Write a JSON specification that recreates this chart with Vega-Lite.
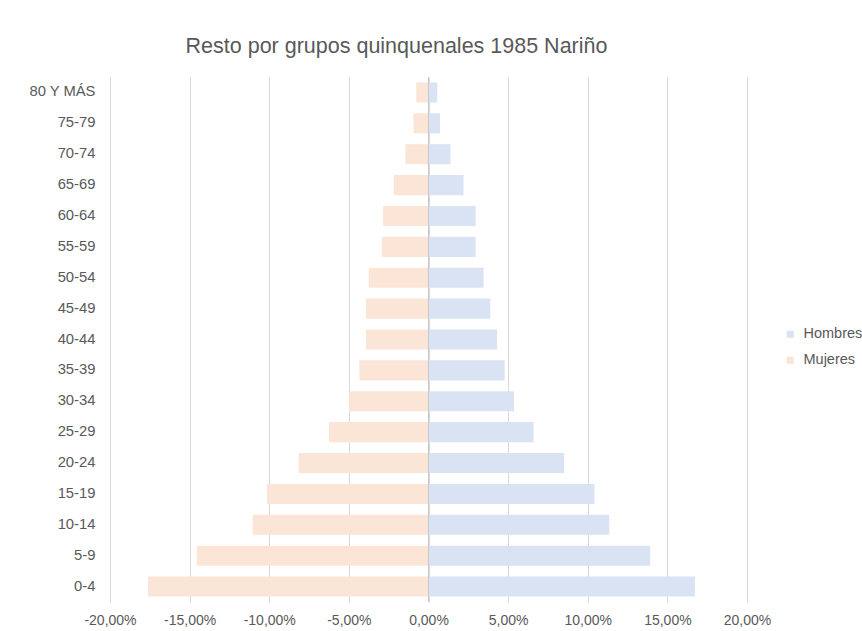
{
  "$schema": "https://vega.github.io/schema/vega-lite/v6.json",
  "autosize": {"type": "none"},
  "width": 637,
  "height": 525,
  "padding": {"left": 110, "top": 77, "right": 115, "bottom": 29},
  "background": "white",
  "config": {
    "view": {"stroke": null},
    "font": "Liberation Sans"
  },
  "title": {
    "text": "Resto por grupos quinquenales 1985 Nariño",
    "fontSize": 21.5,
    "font": "Liberation Sans",
    "fontWeight": "normal",
    "color": "#595959",
    "anchor": "middle",
    "dx": -32,
    "offset": 19
  },
  "data": {
    "values": [
      {"grupo": "80 Y MÁS", "sexo": "Hombres", "valor": 0.55},
      {"grupo": "75-79", "sexo": "Hombres", "valor": 0.72},
      {"grupo": "70-74", "sexo": "Hombres", "valor": 1.38},
      {"grupo": "65-69", "sexo": "Hombres", "valor": 2.2},
      {"grupo": "60-64", "sexo": "Hombres", "valor": 2.96},
      {"grupo": "55-59", "sexo": "Hombres", "valor": 2.96},
      {"grupo": "50-54", "sexo": "Hombres", "valor": 3.46},
      {"grupo": "45-49", "sexo": "Hombres", "valor": 3.88},
      {"grupo": "40-44", "sexo": "Hombres", "valor": 4.3},
      {"grupo": "35-39", "sexo": "Hombres", "valor": 4.78},
      {"grupo": "30-34", "sexo": "Hombres", "valor": 5.37},
      {"grupo": "25-29", "sexo": "Hombres", "valor": 6.6},
      {"grupo": "20-24", "sexo": "Hombres", "valor": 8.52},
      {"grupo": "15-19", "sexo": "Hombres", "valor": 10.42},
      {"grupo": "10-14", "sexo": "Hombres", "valor": 11.35},
      {"grupo": "5-9", "sexo": "Hombres", "valor": 13.92},
      {"grupo": "0-4", "sexo": "Hombres", "valor": 16.73},
      {"grupo": "80 Y MÁS", "sexo": "Mujeres", "valor": -0.77},
      {"grupo": "75-79", "sexo": "Mujeres", "valor": -0.94},
      {"grupo": "70-74", "sexo": "Mujeres", "valor": -1.45},
      {"grupo": "65-69", "sexo": "Mujeres", "valor": -2.18},
      {"grupo": "60-64", "sexo": "Mujeres", "valor": -2.85},
      {"grupo": "55-59", "sexo": "Mujeres", "valor": -2.93},
      {"grupo": "50-54", "sexo": "Mujeres", "valor": -3.75},
      {"grupo": "45-49", "sexo": "Mujeres", "valor": -3.92},
      {"grupo": "40-44", "sexo": "Mujeres", "valor": -3.92},
      {"grupo": "35-39", "sexo": "Mujeres", "valor": -4.34},
      {"grupo": "30-34", "sexo": "Mujeres", "valor": -4.99},
      {"grupo": "25-29", "sexo": "Mujeres", "valor": -6.25},
      {"grupo": "20-24", "sexo": "Mujeres", "valor": -8.15},
      {"grupo": "15-19", "sexo": "Mujeres", "valor": -10.14},
      {"grupo": "10-14", "sexo": "Mujeres", "valor": -11.04},
      {"grupo": "5-9", "sexo": "Mujeres", "valor": -14.55},
      {"grupo": "0-4", "sexo": "Mujeres", "valor": -17.61}
    ]
  },
  "layer": [
    {
      "mark": {"type": "bar"},
      "encoding": {
        "y": {
          "field": "grupo",
          "type": "nominal",
          "sort": ["80 Y MÁS", "75-79", "70-74", "65-69", "60-64", "55-59", "50-54", "45-49", "40-44", "35-39", "30-34", "25-29", "20-24", "15-19", "10-14", "5-9", "0-4"],
          "scale": {"paddingInner": 0.35, "paddingOuter": 0.175},
          "axis": {
            "title": null,
            "ticks": false,
            "domain": false,
            "labelFontSize": 14.8,
            "labelColor": "#595959",
            "labelPadding": 15,
            "labelFont": "Liberation Sans"
          }
        },
        "x": {
          "field": "valor",
          "type": "quantitative",
          "stack": null,
          "scale": {"domain": [-20, 20], "nice": false},
          "axis": {
            "title": null,
            "values": [-20, -15, -10, -5, 0, 5, 10, 15, 20],
            "labelExpr": "(datum.value < 0 ? '-' : '') + replace(format(abs(datum.value), '.2f'), '.', ',') + '%'",
            "labelOverlap": false,
            "labelBound": false,
            "labelFlush": false,
            "ticks": false,
            "domain": false,
            "grid": true,
            "gridColor": "#d9d9d9",
            "gridWidth": 1,
            "labelFontSize": 14,
            "labelColor": "#595959",
            "labelPadding": 11,
            "labelFont": "Liberation Sans"
          }
        },
        "color": {
          "field": "sexo",
          "type": "nominal",
          "scale": {"domain": ["Hombres", "Mujeres"], "range": ["#dae3f3", "#fbe5d6"]},
          "legend": {
            "title": null,
            "orient": "none",
            "legendX": 673,
            "legendY": 250,
            "symbolType": "square",
            "symbolSize": 49,
            "symbolStrokeWidth": 0,
            "labelFontSize": 14.5,
            "labelColor": "#595959",
            "labelFont": "Liberation Sans",
            "rowPadding": 11,
            "labelOffset": 6
          }
        }
      }
    },
    {
      "data": {"values": [{"cero": 0}]},
      "mark": {"type": "rule", "color": "#c8c8c8", "strokeWidth": 1},
      "encoding": {"x": {"field": "cero", "type": "quantitative"}}
    }
  ]
}
